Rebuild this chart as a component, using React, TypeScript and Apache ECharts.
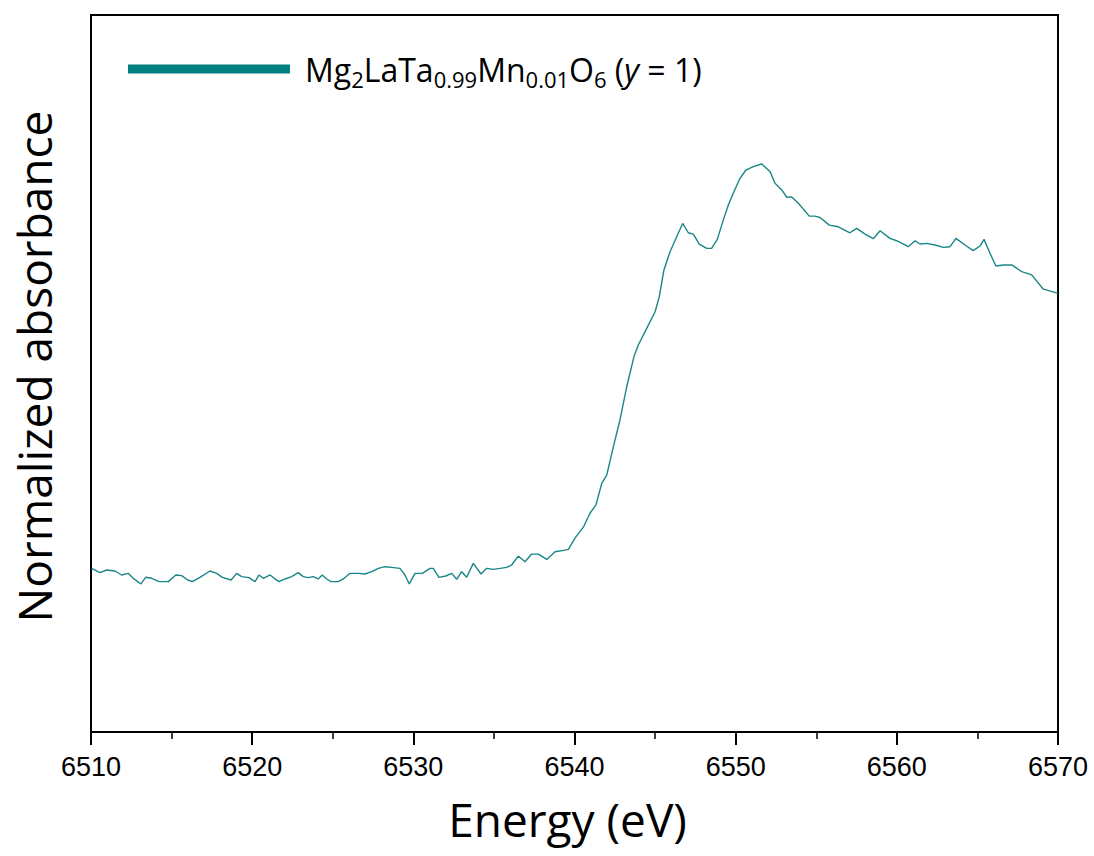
import React, { useEffect, useRef } from "react";
import * as echarts from "echarts";

const energy: number[] = [
  6510.04, 6510.56, 6510.97, 6511.49, 6511.9, 6512.31, 6512.62, 6513.1, 6513.39, 6513.77,
  6514.22, 6514.8, 6515.26, 6515.63, 6516.0, 6516.29, 6516.76, 6517.38, 6517.8, 6518.15,
  6518.69, 6519.04, 6519.35, 6519.8, 6520.18, 6520.42, 6520.69, 6521.11, 6521.37, 6521.66,
  6522.04, 6522.45, 6522.86, 6523.17, 6523.48, 6523.79, 6524.1, 6524.35, 6524.62, 6524.89,
  6525.34, 6525.65, 6526.07, 6526.59, 6527.0, 6527.42, 6527.83, 6528.24, 6528.66, 6529.17,
  6529.48, 6529.75, 6530.1, 6530.56, 6531.03, 6531.24, 6531.59, 6532.01, 6532.38, 6532.69,
  6533.0, 6533.31, 6533.72, 6534.2, 6534.55, 6534.96, 6535.38, 6535.79, 6536.1, 6536.51,
  6536.93, 6537.34, 6537.75, 6538.28, 6538.79, 6539.41, 6539.62,
  6540.03, 6540.55, 6540.96, 6541.33, 6541.69, 6542.0, 6542.41, 6542.82, 6543.24, 6543.69,
  6543.96, 6544.48, 6545.0, 6545.26, 6545.55, 6545.93, 6546.34, 6546.71, 6547.06, 6547.37,
  6547.74, 6548.2, 6548.51, 6548.86, 6549.23, 6549.54, 6549.85, 6550.27, 6550.64, 6551.09,
  6551.62, 6552.14, 6552.44, 6552.86, 6553.17, 6553.48, 6553.89, 6554.57, 6554.92, 6555.23,
  6555.81, 6556.37, 6557.09, 6557.51, 6558.03, 6558.54, 6558.96, 6559.57, 6559.99, 6560.71,
  6561.13, 6561.44, 6561.85, 6562.37, 6562.88, 6563.3, 6563.67, 6564.23, 6564.74, 6565.16,
  6565.41, 6565.78, 6566.15, 6566.61, 6567.13, 6567.75, 6568.37, 6569.09, 6569.92, 6570.0,
];

const absorbance: number[] = [
  0.023, 0.01, 0.018, 0.015, 0.003, 0.008, -0.007, -0.024, -0.004, -0.007,
  -0.017, -0.017, 0.003, 0.001, -0.012, -0.017, -0.004, 0.015, 0.008, -0.004,
  -0.012, 0.008, -0.002, -0.005, -0.017, 0.003, -0.007, 0.003, -0.007, -0.017,
  -0.009, -0.002, 0.01, -0.002, -0.005, -0.002, -0.009, 0.003, -0.009, -0.017,
  -0.017, -0.009, 0.008, 0.008, 0.006, 0.013, 0.023, 0.028, 0.026, 0.023,
  0.003, -0.024, 0.008, 0.008, 0.023, 0.023, -0.004, 0.0, 0.008, -0.01,
  0.013, -0.004, 0.038, 0.006, 0.023, 0.02, 0.023, 0.026, 0.033, 0.06,
  0.043, 0.066, 0.066, 0.05, 0.073, 0.078, 0.08,
  0.114, 0.147, 0.189, 0.214, 0.279, 0.304, 0.389, 0.47, 0.57, 0.661,
  0.696, 0.746, 0.796, 0.841, 0.922, 0.977, 1.022, 1.062, 1.034, 1.03,
  1.0, 0.987, 0.987, 1.014, 1.072, 1.117, 1.153, 1.198, 1.223, 1.233,
  1.241, 1.218, 1.183, 1.163, 1.141, 1.142, 1.123, 1.084, 1.084, 1.08,
  1.057, 1.052, 1.034, 1.047, 1.03, 1.016, 1.04, 1.017, 1.01, 0.992,
  1.01, 1.0, 1.002, 0.997, 0.99, 0.992, 1.017, 0.997, 0.98, 0.994,
  1.014, 0.972, 0.934, 0.937, 0.937, 0.917, 0.907, 0.864, 0.853, 0.852,
];

const seriesName = "Mg2LaTa0.99Mn0.01O6 (y = 1)";
const xTitle = "Energy (eV)";
const yTitle = "Normalized absorbance";
const xMin = 6510;
const xMax = 6570;
const xStep = 10;

export default function App() {
  const ref = useRef<HTMLDivElement>(null);
  useEffect(() => {
    if (!ref.current) return;
    const chart = echarts.init(ref.current, null, { renderer: "svg" });
    const data = energy.map((e, i) => [e, absorbance[i]]);
    chart.setOption({
      animation: false,
      backgroundColor: "#fff",
      grid: {
        left: 91,
        top: 15,
        width: 967,
        height: 717,
        show: true,
        borderColor: "#000",
        borderWidth: 2,
      },
      legend: {
        left: 128,
        top: 48,
        padding: 0,
        icon: "rect",
        itemWidth: 162,
        itemHeight: 9,
        data: [{ name: seriesName, itemStyle: { color: "#008080" } }],
        formatter: () =>
          "Mg{sub|2}LaTa{sub|0.99}Mn{sub|0.01}O{sub|6} ({it|y} = 1)",
        textStyle: {
          fontFamily: "Open Sans",
          fontSize: 32,
          color: "#000",
          lineHeight: 42,
          padding: [0, 0, 0, 10],
          rich: {
            sub: {
              fontFamily: "Open Sans",
              fontSize: 22,
              color: "#000",
              verticalAlign: "top",
              lineHeight: 22,
              padding: [20, 0, 0, 0],
            },
            it: {
              fontFamily: "Open Sans",
              fontSize: 32,
              fontStyle: "italic",
              color: "#000",
            },
          },
        },
      },
      xAxis: {
        type: "value",
        min: xMin,
        max: xMax,
        interval: xStep,
        name: xTitle,
        nameLocation: "middle",
        nameGap: 64,
        nameTextStyle: { fontFamily: "Open Sans", fontSize: 46, color: "#000", padding: [0, 14, 0, 0] },
        axisLine: { show: true, onZero: false, lineStyle: { color: "#000", width: 2 } },
        axisTick: { show: true, length: 13, lineStyle: { color: "#000", width: 2 } },
        minorTick: { show: true, splitNumber: 2, length: 7, lineStyle: { color: "#000", width: 1.5 } },
        axisLabel: {
          fontFamily: "Liberation Sans",
          fontSize: 27,
          color: "#000",
          margin: 21,
          formatter: (v: number) => String(v),
        },
        splitLine: { show: false },
      },
      yAxis: {
        type: "value",
        min: -0.47,
        max: 1.69,
        name: yTitle,
        nameLocation: "middle",
        nameGap: 34,
        nameTextStyle: { fontFamily: "Open Sans", fontSize: 46, color: "#000", padding: [0, 0, 0, 14] },
        axisLine: { show: true, onZero: false, lineStyle: { color: "#000", width: 2 } },
        axisTick: { show: false },
        axisLabel: { show: false },
        splitLine: { show: false },
      },
      series: [
        {
          name: seriesName,
          type: "line",
          data,
          showSymbol: false,
          symbol: "none",
          color: "#008080",
          lineStyle: { color: "#1a8686", width: 1.4 },
        },
      ],
    });
    return () => chart.dispose();
  }, []);
  return (
    <div
      ref={ref}
      style={{ position: "absolute", left: 0, top: 0, width: 1094, height: 856 }}
    />
  );
}
